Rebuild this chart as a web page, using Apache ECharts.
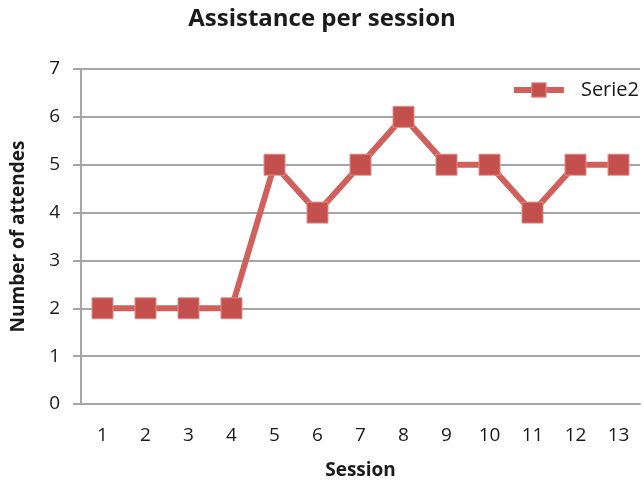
<!DOCTYPE html>
<html>
<head>
<meta charset="utf-8">
<script src="https://cdn.jsdelivr.net/npm/echarts@6/dist/echarts.min.js"></script>
<style>
  html, body { margin: 0; padding: 0; background: #fff; }
  #chart { width: 644px; height: 485px; }
</style>
</head>
<body>
<div id="chart"></div>
<script>
// Attendance recorded at each session
const sessions = ['1', '2', '3', '4', '5', '6', '7', '8', '9', '10', '11', '12', '13'];
const attendees = [2, 2, 2, 2, 5, 4, 5, 6, 5, 5, 4, 5, 5];
const yTicks = [0, 1, 2, 3, 4, 5, 6, 7];

const font = '"Open Sans", "Liberation Sans", sans-serif';
const gridGray = '#a6a6a6';
const lineRed = '#d0605c';
const markRed = '#c4504d';

const chart = echarts.init(document.getElementById('chart'), null, { renderer: 'canvas' });
chart.setOption({
  animation: false,
  backgroundColor: '#ffffff',
  title: {
    text: 'Assistance per session',
    left: 'center',
    top: 2,
    textStyle: { fontFamily: font, fontSize: 24, fontWeight: 'bold', color: '#1a1a1a' }
  },
  legend: {
    right: 0,
    top: 75,
    itemWidth: 50,
    itemHeight: 18,
    itemGap: 10,
    lineStyle: { color: lineRed, width: 6 },
    itemStyle: { color: markRed, borderColor: '#e08c89', borderWidth: 1 },
    textStyle: { fontFamily: font, fontSize: 20, color: '#1a1a1a', padding: [0, 0, 0, 12] },
    data: ['Serie2']
  },
  grid: { left: 81, right: 4, top: 69, bottom: 79, containLabel: false },
  xAxis: {
    type: 'category',
    data: sessions,
    boundaryGap: true,
    name: 'Session',
    nameLocation: 'middle',
    nameGap: 57,
    nameTextStyle: { fontFamily: font, fontSize: 19, fontWeight: 'bold', color: '#1a1a1a' },
    axisLine: { lineStyle: { color: gridGray, width: 2 } },
    axisTick: { show: false },
    axisLabel: { fontFamily: font, fontSize: 19, color: '#1a1a1a', margin: 22 }
  },
  yAxis: {
    type: 'value',
    min: yTicks[0],
    max: yTicks[yTicks.length - 1],
    interval: 1,
    name: 'Number of attendes',
    nameLocation: 'middle',
    nameGap: 53,
    nameTextStyle: { fontFamily: font, fontSize: 19, fontWeight: 'bold', color: '#1a1a1a' },
    axisLine: { show: true, lineStyle: { color: gridGray, width: 2 } },
    axisTick: { show: true, length: 8, lineStyle: { color: gridGray, width: 2 } },
    axisLabel: { fontFamily: font, fontSize: 19, color: '#1a1a1a', margin: 21 },
    splitLine: { lineStyle: { color: gridGray, width: 2 } }
  },
  series: [{
    name: 'Serie2',
    type: 'line',
    data: attendees,
    symbol: 'rect',
    symbolSize: 21,
    lineStyle: { color: lineRed, width: 6 },
    itemStyle: { color: markRed, borderColor: '#e08c89', borderWidth: 1 },
    z: 3
  }]
});
</script>
</body>
</html>
